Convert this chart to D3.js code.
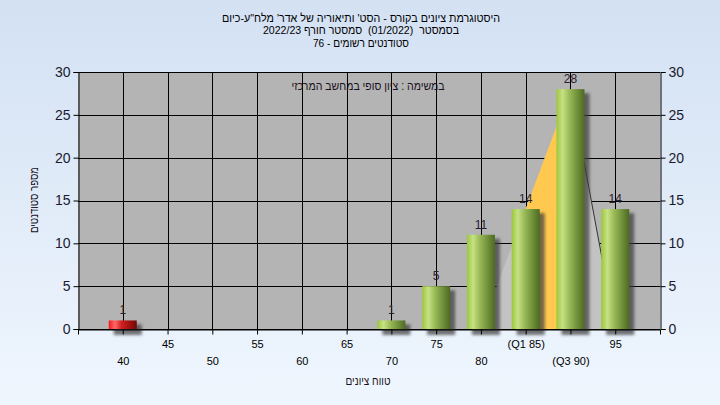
<!DOCTYPE html>
<html>
<head>
<meta charset="utf-8">
<script src="https://cdn.jsdelivr.net/npm/d3@7"></script>
<style>
  html, body { margin: 0; padding: 0; }
  body { width: 720px; height: 405px; overflow: hidden; }
  text { font-family: "Liberation Sans", Arial, "DejaVu Sans", sans-serif; }
</style>
</head>
<body>
<svg id="chart" width="720" height="405"></svg>
<script>
// ---- data ----
const categories = ["40","45","50","55","60","65","70","75","80","85","90","95"];
const tickLabels = ["40","45","50","55","60","65","70","75","80","(Q1 85)","(Q3 90)","95"];
const counts = [1,0,0,0,0,0,1,5,11,14,28,14];
const failCategories = ["40"];
const yTicks = [0,5,10,15,20,25,30];
const q1 = "85", q3 = "90";
const distStart = "80", distPeak = "90", distEnd = "95";
const titleLines = [
  "היסטוגרמת ציונים בקורס - הסט' ותיאוריה של אדר' מלח\"ע-כיום",
  "בסמסטר  (01/2022)  סמסטר חורף 2022/23",
  "סטודנטים רשומים - 76"
];
const innerLabel = "במשימה : ציון סופי במחשב המרכזי";
const xTitle = "טווח ציונים";
const yTitle = "מספר סטודנטים";

const svg = d3.select("#chart");
const W = 720, H = 405;
const L = 78, R = 660, T = 72, B = 329;

const defs = svg.append("defs");
const bg = defs.append("linearGradient").attr("id","bg").attr("x1",0).attr("y1",0).attr("x2",0).attr("y2",1);
bg.append("stop").attr("offset","0%").attr("stop-color","#d3e1f3");
bg.append("stop").attr("offset","100%").attr("stop-color","#eff6fe");

const gGreen = defs.append("linearGradient").attr("id","green").attr("x1",0).attr("y1",0).attr("x2",1).attr("y2",0);
[["0%","#9cc63e"],["22%","#c6e184"],["45%","#9bbb58"],["75%","#6f8f3a"],["100%","#4c6a22"]]
  .forEach(([o,c]) => gGreen.append("stop").attr("offset",o).attr("stop-color",c));
const gRed = defs.append("linearGradient").attr("id","red").attr("x1",0).attr("y1",0).attr("x2",1).attr("y2",0);
[["0%","#f01818"],["22%","#ff6a6a"],["45%","#d42020"],["75%","#a01010"],["100%","#6e0808"]]
  .forEach(([o,c]) => gRed.append("stop").attr("offset",o).attr("stop-color",c));
const blur = defs.append("filter").attr("id","blur").attr("x","-50%").attr("y","-50%").attr("width","200%").attr("height","200%");
blur.append("feGaussianBlur").attr("stdDeviation",1.6);

svg.append("rect").attr("width",W).attr("height",H).attr("fill","url(#bg)");

const x = d3.scalePoint().domain(categories).range([L,R]).padding(1);
const y = d3.scaleLinear().domain([0,30]).range([B,T]);

// plot background
svg.append("rect").attr("x",L).attr("y",T).attr("width",R-L).attr("height",B-T).attr("fill","#b4b4b4");

// gridlines
const grid = svg.append("g").attr("stroke","#000").attr("stroke-width",1);
grid.selectAll("line.h").data(yTicks).join("line").attr("class","h")
  .attr("x1",L).attr("x2",R).attr("y1",d=>Math.round(y(d))+0.5).attr("y2",d=>Math.round(y(d))+0.5);
grid.selectAll("line.v").data(categories).join("line").attr("class","v")
  .attr("x1",d=>Math.round(x(d))+0.5).attr("x2",d=>Math.round(x(d))+0.5).attr("y1",T).attr("y2",B);

// distribution triangle overlay
const peakVal = counts[categories.indexOf(distPeak)];
const tri = [[x(distStart), y(0)], [x(distPeak), y(peakVal)], [x(distEnd), y(0)]];
svg.append("path").attr("d", d3.line()(tri) + "Z").attr("fill","#c3c3c3");
const lineAt = xx => y(0) + (y(peakVal) - y(0)) * (xx - x(distStart)) / (x(distPeak) - x(distStart));
const orange = [[x(q1), y(0)], [x(q1), lineAt(x(q1))], [x(q3), lineAt(x(q3))], [x(q3), y(0)]];
svg.append("path").attr("d", d3.line()(orange) + "Z").attr("fill","#ffc84f");
svg.append("line").attr("x1",x(distPeak)).attr("y1",y(peakVal)).attr("x2",x(distEnd)).attr("y2",y(0))
  .attr("stroke","#333").attr("stroke-width",1);

// bars
const bw = 28;
const data = categories.map((c,i) => ({c, v: counts[i]})).filter(d => d.v > 0);
svg.append("g").selectAll("rect").data(data).join("rect")
  .attr("x", d => x(d.c) - bw/2 + 5).attr("y", d => y(d.v) + 4)
  .attr("width", bw).attr("height", d => y(0) - y(d.v) + 2)
  .attr("fill","#3a3a3a").attr("opacity",0.7).attr("filter","url(#blur)");
svg.append("g").selectAll("rect").data(data).join("rect")
  .attr("x", d => x(d.c) - bw/2).attr("y", d => y(d.v))
  .attr("width", bw).attr("height", d => y(0) - y(d.v))
  .attr("fill", d => failCategories.includes(d.c) ? "url(#red)" : "url(#green)");

// value labels
svg.append("g").selectAll("text").data(data).join("text")
  .attr("x", d => x(d.c)).attr("y", d => y(d.v) - 6)
  .attr("text-anchor","middle").attr("font-size",12).attr("fill","#2a2030")
  .text(d => d.v);

// axes
const yl = svg.append("g").attr("transform",`translate(${L+0.5},0)`)
  .call(d3.axisLeft(y).tickValues(yTicks).tickSize(5).tickPadding(3));
const yr = svg.append("g").attr("transform",`translate(${R+0.5},0)`)
  .call(d3.axisRight(y).tickValues(yTicks).tickSize(5).tickPadding(3));
[yl, yr].forEach(g => {
  g.select(".domain").attr("stroke","#000");
  g.selectAll(".tick line").attr("stroke","#000");
  g.selectAll(".tick text").attr("font-size",14).attr("fill","#1a1a2e")
    .style("font-family",'"Liberation Sans", Arial, sans-serif');
});
const xa = svg.append("g").attr("transform",`translate(0,${B+0.5})`)
  .call(d3.axisBottom(x).tickSize(5).tickFormat((d,i) => tickLabels[i]));
xa.select(".domain").attr("stroke","#000");
xa.selectAll(".tick line").attr("stroke","#000");
xa.selectAll(".tick text").attr("font-size",11).attr("fill","#000")
  .style("font-family",'"Liberation Sans", Arial, sans-serif')
  .attr("y", (d,i) => i % 2 ? 11 : 28);

// titles (natural right-to-left text), fitted to the reference widths
const titleWidths = [278, 196, 96];
svg.append("g").selectAll("text").data(titleLines).join("text")
  .attr("x",361).attr("y",(d,i) => 21.5 + i*12.5)
  .attr("text-anchor","middle").attr("direction","rtl")
  .attr("textLength",(d,i) => titleWidths[i]).attr("lengthAdjust","spacingAndGlyphs")
  .style("white-space","pre")
  .attr("font-size",11).attr("fill","#000").text(d => d);
svg.append("text").attr("x",368).attr("y",90).attr("text-anchor","middle").attr("direction","rtl")
  .attr("textLength",153).attr("lengthAdjust","spacingAndGlyphs")
  .attr("font-size",12).attr("fill","#1a1020").text(innerLabel);
svg.append("text").attr("x",368).attr("y",385).attr("text-anchor","middle").attr("direction","rtl")
  .attr("textLength",45).attr("lengthAdjust","spacingAndGlyphs")
  .attr("font-size",12).attr("fill","#1a1020").text(xTitle);
svg.append("text").attr("transform","translate(38,200) rotate(-90)").attr("text-anchor","middle")
  .attr("direction","rtl").attr("textLength",66).attr("lengthAdjust","spacingAndGlyphs")
  .attr("font-size",12).attr("fill","#1a1020").text(yTitle);
</script>
</body>
</html>
